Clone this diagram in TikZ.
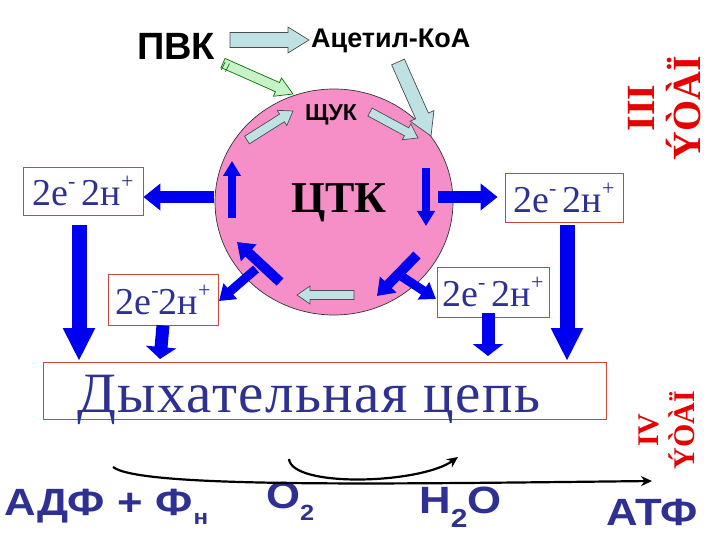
\documentclass[tikz,border=0pt]{standalone}
\usepackage{fontspec}
\setmainfont{Liberation Serif}
\setsansfont{Liberation Sans}
\newfontfamily\spacedserif[LetterSpace=2.7]{Liberation Serif}
\usetikzlibrary{arrows.meta,calc,positioning,shapes.geometric}

\definecolor{navy}{RGB}{46,49,146}
\definecolor{arrblue}{RGB}{0,0,240}
\definecolor{cyclepink}{RGB}{246,143,200}
\definecolor{paleblue}{RGB}{190,226,228}
\definecolor{palegreen}{RGB}{200,242,200}
\definecolor{boxred}{RGB}{200,70,60}
\definecolor{stagered}{RGB}{230,0,0}

\newcommand\fsz[1]{\fontsize{#1}{#1}\selectfont}
\newcommand\sups[1]{\raisebox{17pt}{\fsz{22}#1}}
% outlined block arrow: style, tail, tip, body half width, head half width, head length
\newcommand\hollowarrow[6]{%
  \path[#1] let \p1=(#2), \p2=(#3), \n1={atan2(\y2-\y1,\x2-\x1)} in
    ($(\p1)+(\n1+90:#4)$) -- ($(\p2)+(\n1:-#6)+(\n1+90:#4)$)
    -- ($(\p2)+(\n1:-#6)+(\n1+90:#5)$) -- (\p2)
    -- ($(\p2)+(\n1:-#6)+(\n1-90:#5)$) -- ($(\p2)+(\n1:-#6)+(\n1-90:#4)$)
    -- ($(\p1)+(\n1-90:#4)$) -- cycle;}

\begin{document}
\begin{tikzpicture}[x=1pt,y=-1pt,
  hollow/.style={draw=black!70,line width=0.7pt,fill=paleblue},
  greenhollow/.style={draw=black!55!green,line width=0.7pt,fill=palegreen},
  flow/.style={draw=arrblue,line width=#1},
  pairbox/.style={draw=boxred,line width=0.9pt,text=navy,inner sep=0pt,
    font=\fsz{38}},
  bottomlabel/.style={text=navy,font=\sffamily\bfseries\fsz{38},xscale=1.15,
    inner sep=0pt},
  stage/.style={text=stagered,rotate=90,align=center,inner sep=0pt},
  reaction/.style={draw=black,line width=2.2pt,-{Stealth[length=11pt,width=10pt]}},
]
\useasboundingbox (0,0) rectangle (720,540);

% cycle
\node[ellipse,draw=black!80,line width=0.7pt,fill=cyclepink,
  minimum width=238pt,minimum height=226pt] (tca) at (334,202) {};
\node[anchor=base,font=\bfseries\fsz{44}] (tck) at (339,212) {ЦТК};
\node[anchor=base,font=\sffamily\bfseries\fsz{23}] (oaa) at (331,121) {ЩУК};

% top labels
\node[anchor=base,font=\sffamily\bfseries\fsz{38}] (pvk) at (176,60) {ПВК};
\node[anchor=base west,font=\sffamily\bfseries\fsz{27},inner sep=0pt] (acet) at (311,48) {Ацетил-КоА};

\coordinate (pvkR) at (230,40);
\coordinate (acetL) at (309,40);
\coordinate (greenT) at (223,63);
\coordinate (greenH) at (293,94);
\coordinate (acetB) at (398,62);
\coordinate (tcaNE) at (431,136);

\hollowarrow{hollow}{pvkR}{acetL}{7.5pt}{13pt}{21pt}
\hollowarrow{greenhollow}{greenT}{greenH}{5pt}{10pt}{17pt}
\draw[black!55!green,line width=0.7pt] ($(greenT)!0.09!(greenH)+(-4,-4)$) -- ++(-4,8)
  ($(greenT)!0.15!(greenH)+(-4,-4)$) -- ++(-4,8);
\hollowarrow{hollow}{acetB}{tcaNE}{7pt}{13pt}{22pt}

% inner steps of the cycle
\coordinate (s1a) at (247,140); \coordinate (s1b) at (293,111);
\coordinate (s2a) at (370,112); \coordinate (s2b) at (418,138);
\coordinate (s3a) at (354,295); \coordinate (s3b) at (297,295);
\hollowarrow{hollow}{s1a}{s1b}{4.5pt}{9pt}{13pt}
\hollowarrow{hollow}{s2a}{s2b}{4.5pt}{9pt}{13pt}
\hollowarrow{hollow}{s3a}{s3b}{4.5pt}{9pt}{13pt}

\coordinate (upA) at (232,218); \coordinate (upB) at (232,161);
\coordinate (dnA) at (426,168); \coordinate (dnB) at (426,226);
\draw[flow=8pt,-{Triangle[width=17pt,length=15pt]}] (upA) -- (upB);
\draw[flow=8pt,-{Triangle[width=17pt,length=15pt]}] (dnA) -- (dnB);

\coordinate (llA) at (280,282); \coordinate (llB) at (237,242);
\coordinate (llC) at (256,269); \coordinate (llD) at (219,301);
\coordinate (lrA) at (417,255); \coordinate (lrB) at (377,296);
\coordinate (lrC) at (401,276); \coordinate (lrD) at (436,299);
\draw[flow=10pt,-{Triangle[width=22pt,length=16pt]}] (llA) -- (llB);
\draw[flow=9pt,-{Triangle[width=20pt,length=15pt]}] (llC) -- (llD);
\draw[flow=10pt,-{Triangle[width=22pt,length=16pt]}] (lrA) -- (lrB);
\draw[flow=9pt,-{Triangle[width=20pt,length=15pt]}] (lrC) -- (lrD);

% electron pairs
\node[pairbox,minimum width=120pt,minimum height=48pt] (pairTL) at (83,191) {2e\sups{-}\,2н\sups{+}};
\node[pairbox,minimum width=118pt,minimum height=49pt] (pairTR) at (564,197.5) {2e\sups{-}\,2н\sups{+}};
\node[pairbox,minimum width=110pt,minimum height=51pt] (pairLL) at (163,299.5) {2e\sups{-}2н\sups{+}};
\node[pairbox,minimum width=112pt,minimum height=50pt] (pairLR) at (493,292) {2e\sups{-}\,2н\sups{+}};

\coordinate (tcaW) at (214,197); \coordinate (tcaE) at (438,197);
\draw[flow=12pt,-{Triangle[width=26pt,length=17pt]}] (tcaW) -- (pairTL.east |- tcaW);
\draw[flow=12pt,-{Triangle[width=26pt,length=17pt]}] (tcaE) -- ([xshift=-7pt]pairTR.west |- tcaE);

% respiratory chain
\node[draw=boxred,line width=0.9pt,minimum width=563pt,minimum height=57pt] (chain) at (324.5,390.5) {};
\node[anchor=base west,inner sep=0pt,text=navy,font=\spacedserif\fsz{57}] (chaintext) at (77,412) {Дыхательная цепь};

\draw[flow=15pt,-{Triangle[width=30pt,length=33pt]}] (79,225) -- (79,361);
\draw[flow=15pt,-{Triangle[width=30pt,length=33pt]}] (567,225) -- (567,361);
\draw[flow=13pt,-{Triangle[width=30pt,length=12pt]}] (pairLL.south) -- (160,359);
\draw[flow=13pt,-{Triangle[width=30pt,length=12pt]}] ([yshift=4pt]pairLR.south -| 488,0) -- (488,356);

% oxidative phosphorylation
\node[bottomlabel,anchor=base west] (adp) at (4,515) {АДФ + Ф\hspace{1pt}\raisebox{-9pt}{\fsz{21}н}};
\node[bottomlabel,anchor=base west] (oxy) at (266,508) {O\raisebox{-12pt}{\fsz{22}2}};
\node[bottomlabel,anchor=base west] (water) at (419,513) {H\raisebox{-14pt}{\fsz{26}2}O};
\node[bottomlabel,anchor=base west] (atp) at (606,525) {АТФ};

\coordinate (adpT) at (113,467); \coordinate (atpH) at (652,481);
\coordinate (oxyT) at (289,459); \coordinate (waterH) at (458,457);
\draw[reaction] (adpT) .. controls (140,488) and (380,484) .. (atpH);
\draw[reaction] (oxyT) .. controls (292,488) and (420,484) .. (waterH);

% stages
\node[stage,font=\bfseries\fsz{40}] (stage3) at (665,108) {III\\[6pt]ÝÒÀÏ};
\node[stage,font=\bfseries\fsz{30}] (stage4) at (667,430) {IV\\[6pt]ÝÒÀÏ};

\end{tikzpicture}
\end{document}
